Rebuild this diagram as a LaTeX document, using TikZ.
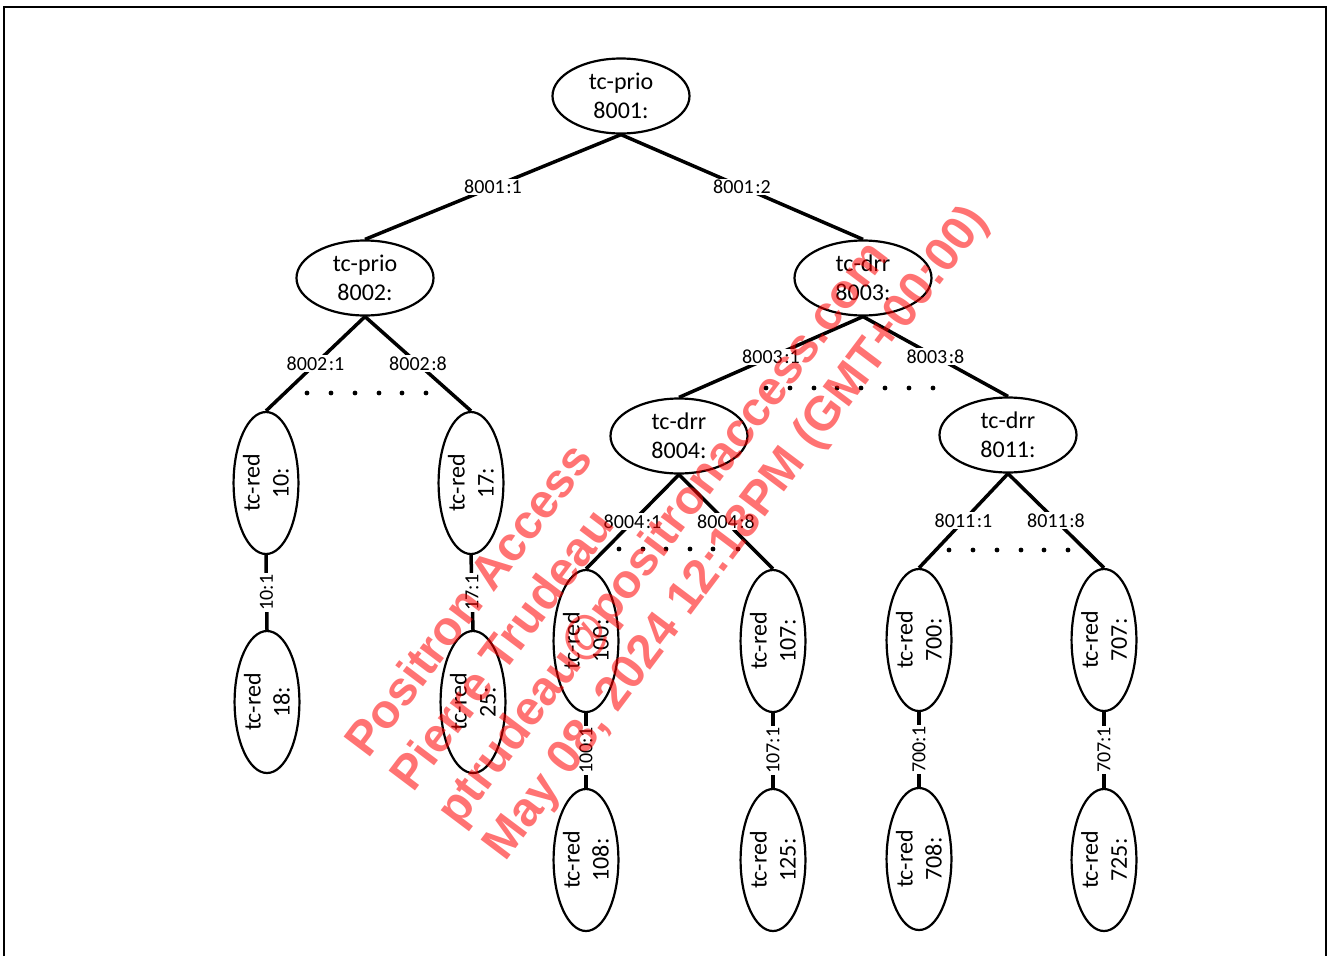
\documentclass[tikz,border=0pt]{standalone}
\usepackage{fontspec}
\setmainfont{Carlito}
\newfontfamily\markfont{Liberation Sans}
\usetikzlibrary{shapes.geometric}

\begin{document}
\begin{tikzpicture}[x=1pt,y=-1pt,
  qdisc/.style={ellipse,draw,line width=2.2pt,minimum width=137pt,minimum height=75pt,
    inner sep=0pt,align=center,font=\fontsize{24}{29}\selectfont},
  leaf/.style={ellipse,draw,line width=2.2pt,minimum width=142pt,minimum height=62pt,
    inner sep=0pt,align=center,rotate=90,font=\fontsize{24}{29}\selectfont},
  link/.style={line width=3.5pt},
  lbl/.style={fill=white,inner sep=1.5pt,font=\fontsize{20}{24}\selectfont},
  wmark/.style={anchor=base west,rotate=53,inner sep=0pt,text=red,text opacity=0.55,
    font=\markfont\bfseries\fontsize{48}{56}\selectfont},
]
\useasboundingbox (0,0) rectangle (1328,956);

% page frame
\draw[line width=2pt] (3.5,956) -- (3.5,6.5) -- (1325.5,6.5) -- (1325.5,956);

% classful qdiscs
\node[qdisc] (q8001) at (621,96)  {tc-prio\\8001:};
\node[qdisc] (q8002) at (365,278) {tc-prio\\8002:};
\node[qdisc] (q8003) at (863,278) {tc-drr\\8003:};
\node[qdisc] (q8004) at (679,436) {tc-drr\\8004:};
\node[qdisc] (q8011) at (1008,435) {tc-drr\\8011:};

% RED leaves
\node[leaf] (r10)  at (266,483)  {tc-red\\10:};
\node[leaf] (r17)  at (471,483)  {tc-red\\17:};
\node[leaf] (r18)  at (267,702)  {tc-red\\18:};
\node[leaf] (r25)  at (473,702)  {tc-red\\25:};
\node[leaf] (r100) at (586,641)  {tc-red\\100:};
\node[leaf] (r107) at (773,641)  {tc-red\\107:};
\node[leaf] (r108) at (586,860)  {tc-red\\108:};
\node[leaf] (r125) at (773,860)  {tc-red\\125:};
\node[leaf] (r700) at (919,640)  {tc-red\\700:};
\node[leaf] (r707) at (1104,640) {tc-red\\707:};
\node[leaf] (r708) at (919,859)  {tc-red\\708:};
\node[leaf] (r725) at (1104,860) {tc-red\\725:};

% class links
\draw[link] (q8001.south) -- node[lbl]{8001\kern1.5pt:1} (q8002.north);
\draw[link] (q8001.south) -- node[lbl]{8001\kern1.5pt:2} (q8003.north);
\draw[link] (q8002.south) -- node[lbl]{8002\kern1.5pt:1} (r10.east);
\draw[link] (q8002.south) -- node[lbl]{8002\kern1.5pt:8} (r17.east);
\draw[link] (q8003.south) -- node[lbl]{8003\kern1.5pt:1} (q8004.north);
\draw[link] (q8003.south) -- node[lbl]{8003\kern1.5pt:8} (q8011.north);
\draw[link] (q8004.south) -- node[lbl]{8004\kern1.5pt:1} (r100.east);
\draw[link] (q8004.south) -- node[lbl]{8004\kern1.5pt:8} (r107.east);
\draw[link] (q8011.south) -- node[lbl]{8011\kern1.5pt:1} (r700.east);
\draw[link] (q8011.south) -- node[lbl]{8011\kern1.5pt:8} (r707.east);

\draw[link] (r10.west)  -- node[lbl,rotate=90]{10:1}  (r18.east);
\draw[link] (r17.west)  -- node[lbl,rotate=90]{17:1}  (r25.east);
\draw[link] (r100.west) -- node[lbl,rotate=90]{100:1} (r108.east);
\draw[link] (r107.west) -- node[lbl,rotate=90]{107:1} (r125.east);
\draw[link] (r700.west) -- node[lbl,rotate=90]{700:1} (r708.east);
\draw[link] (r707.west) -- node[lbl,rotate=90]{707:1} (r725.east);

% elided classes
\foreach \x in {307,331,355,379,402,426} \fill (\x,393) circle (2.4pt);
\foreach \x in {766,790,814,837,861,885,909,933} \fill (\x,388) circle (2.4pt);
\foreach \x in {619,643,666,690,713,738} \fill (\x,549) circle (2.4pt);
\foreach \x in {949,973,997,1021,1044,1068} \fill (\x,550) circle (2.4pt);

% watermark
\node[wmark] (wm1) at (368,760) {Positron Access};
\node[wmark] (wm2) at (413.5,794) {Pierre Trudeau};
\node[wmark] (wm3) at (459,829) {ptrudeau@positronaccess.com};
\node[wmark] (wm4) at (505,863) {May 08, 2024 12:18PM (GMT+00:00)};
\end{tikzpicture}
\end{document}
